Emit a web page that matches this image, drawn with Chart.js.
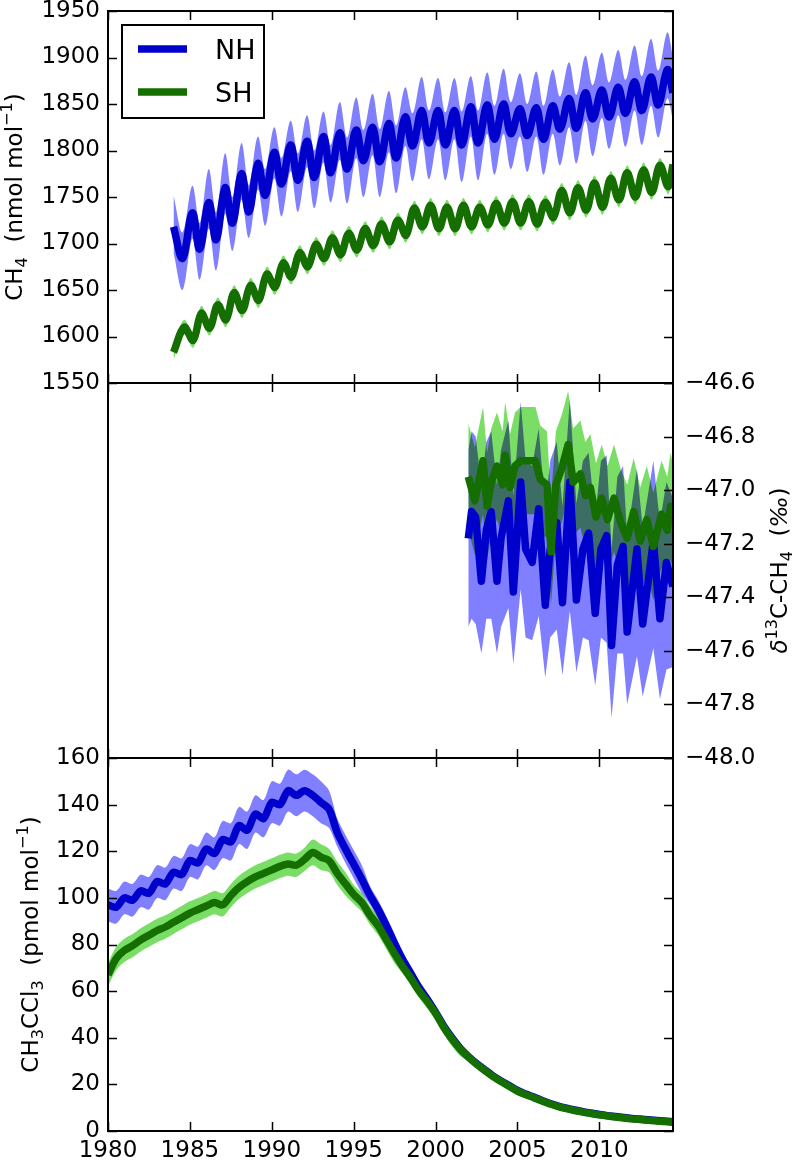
<!DOCTYPE html>
<html><head><meta charset="utf-8">
<script src="https://cdn.jsdelivr.net/npm/chart.js@4.4.1/dist/chart.umd.min.js"></script>
<style>
html,body{margin:0;padding:0;background:#fff;}
#wrap{position:relative;width:793px;height:1160px;overflow:hidden;background:#fff;}
canvas{position:absolute;left:0;top:0;}
</style></head><body>
<div id="wrap">
<canvas id="c1" width="793" height="1160"></canvas>
<canvas id="c2" width="793" height="1160"></canvas>
<canvas id="c3" width="793" height="1160"></canvas>
</div>
<script>
// ---------------- data ----------------
const SERIES_NAMES = ['NH', 'SH'];
const YEAR_TICKS = [1980, 1985, 1990, 1995, 2000, 2005, 2010];
const YEAR_RANGE = [1980, 2014.5];
const CH4_TICKS = [1550, 1600, 1650, 1700, 1750, 1800, 1850, 1900, 1950];
const D13C_TICKS = [-48.0, -47.8, -47.6, -47.4, -47.2, -47.0, -46.8, -46.6];
const MCF_TICKS = [0, 20, 40, 60, 80, 100, 120, 140, 160];

// CH4 (nmol/mol)
const NH_CH4_T = [1984.0,1984.55,1985.15,1985.6,1986.15,1986.6,1987.15,1987.6,1988.15,1988.6,1989.15,1989.6,1990.15,1990.6,1991.15,1991.6,1992.15,1992.6,1993.15,1993.6,1994.15,1994.6,1995.15,1995.6,1996.15,1996.6,1997.15,1997.6,1998.15,1998.6,1999.15,1999.6,2000.15,2000.6,2001.15,2001.6,2002.15,2002.6,2003.15,2003.6,2004.15,2004.6,2005.15,2005.6,2006.15,2006.6,2007.15,2007.6,2008.15,2008.6,2009.15,2009.6,2010.15,2010.6,2011.15,2011.6,2012.15,2012.6,2013.15,2013.6,2014.15,2014.5];
const NH_CH4 = [1718,1684,1733,1694,1744,1704,1760,1722,1775,1734,1786,1752,1798,1764,1806,1768,1810,1771,1815,1776,1819,1780,1822,1789,1825,1788,1829,1792,1836,1805,1843,1808,1843,1806,1843,1806,1847,1808,1849,1812,1850,1818,1845,1816,1846,1812,1848,1823,1856,1824,1862,1834,1865,1836,1868,1840,1874,1843,1879,1849,1887,1862];
const NH_CH4_HI = [1752,1712,1762,1722,1780,1734,1797,1750,1808,1763,1815,1780,1825,1792,1832,1797,1838,1800,1842,1806,1852,1814,1857,1822,1861,1823,1864,1827,1868,1840,1879,1843,1878,1841,1878,1842,1880,1843,1884,1848,1888,1852,1883,1850,1885,1848,1887,1858,1895,1860,1902,1870,1905,1873,1908,1876,1913,1880,1920,1886,1927,1900];
const NH_CH4_LO = [1690,1650,1705,1661,1716,1671,1732,1692,1747,1706,1758,1719,1770,1729,1778,1734,1782,1738,1787,1744,1790,1743,1792,1750,1795,1750,1798,1754,1805,1767,1812,1769,1812,1768,1812,1766,1815,1768,1818,1774,1818,1780,1815,1777,1815,1774,1818,1784,1825,1786,1832,1794,1835,1802,1838,1804,1843,1806,1848,1814,1856,1833];
const SH_CH4_T = [1984.0,1984.65,1985.2,1985.7,1986.2,1986.7,1987.2,1987.7,1988.2,1988.7,1989.2,1989.7,1990.2,1990.7,1991.2,1991.7,1992.2,1992.7,1993.2,1993.7,1994.2,1994.7,1995.2,1995.7,1996.2,1996.7,1997.2,1997.7,1998.2,1998.7,1999.2,1999.7,2000.2,2000.7,2001.2,2001.7,2002.2,2002.7,2003.2,2003.7,2004.2,2004.7,2005.2,2005.7,2006.2,2006.7,2007.2,2007.7,2008.2,2008.7,2009.2,2009.7,2010.2,2010.7,2011.2,2011.7,2012.2,2012.7,2013.2,2013.7,2014.2,2014.5];
const SH_CH4 = [1583,1610,1596,1625,1609,1634,1618,1647,1628,1655,1639,1667,1653,1679,1664,1690,1675,1699,1684,1706,1688,1711,1693,1716,1698,1721,1702,1725,1709,1738,1718,1741,1716,1739,1716,1741,1718,1739,1720,1743,1722,1745,1722,1745,1721,1744,1728,1757,1733,1760,1736,1765,1739,1770,1747,1776,1750,1779,1755,1784,1761,1785];
const SH_CH4_HI = [1591,1618,1604,1633,1617,1642,1626,1655,1636,1663,1647,1675,1661,1687,1672,1698,1683,1707,1692,1714,1696,1719,1701,1724,1706,1729,1710,1733,1717,1746,1726,1749,1724,1747,1724,1749,1726,1747,1728,1751,1730,1753,1730,1753,1729,1752,1736,1765,1741,1768,1744,1773,1747,1778,1755,1784,1758,1787,1763,1792,1769,1793];
const SH_CH4_LO = [1575,1602,1588,1617,1601,1626,1610,1639,1620,1647,1631,1659,1645,1671,1656,1682,1667,1691,1676,1698,1680,1703,1685,1708,1690,1713,1694,1717,1701,1730,1710,1733,1708,1731,1708,1733,1710,1731,1712,1735,1714,1737,1714,1737,1713,1736,1720,1749,1725,1752,1728,1757,1731,1762,1739,1768,1742,1771,1747,1776,1753,1777];

// delta13C-CH4 (permil)
const NH_D13C_T = [2002.0,2002.2,2002.45,2002.8,2003.1,2003.4,2003.75,2004.0,2004.45,2004.75,2005.2,2005.5,2005.9,2006.3,2006.7,2007.0,2007.4,2007.75,2008.2,2008.6,2009.0,2009.35,2009.75,2010.1,2010.45,2010.75,2011.1,2011.45,2011.7,2012.3,2012.65,2013.3,2013.7,2014.1,2014.5];
const NH_D13C = [-47.18,-47.08,-47.10,-47.34,-47.15,-47.08,-47.34,-47.18,-47.04,-47.38,-46.97,-47.22,-47.27,-47.07,-47.43,-47.22,-47.12,-47.42,-46.97,-47.41,-47.22,-47.16,-47.46,-47.22,-47.17,-47.58,-47.28,-47.21,-47.53,-47.22,-47.50,-47.19,-47.48,-47.27,-47.36];
const NH_D13C_HI = [-46.85,-46.78,-46.80,-46.98,-46.82,-46.78,-46.98,-46.85,-46.74,-47.02,-46.67,-46.89,-46.91,-46.77,-47.07,-46.89,-46.82,-47.06,-46.66,-47.05,-46.89,-46.86,-47.10,-46.89,-46.87,-47.22,-46.95,-46.91,-47.17,-46.92,-47.14,-46.89,-47.12,-46.97,-47.03];
const NH_D13C_LO = [-47.51,-47.48,-47.50,-47.61,-47.48,-47.48,-47.61,-47.51,-47.44,-47.65,-47.37,-47.55,-47.56,-47.47,-47.70,-47.55,-47.52,-47.69,-47.45,-47.68,-47.55,-47.56,-47.73,-47.55,-47.57,-47.85,-47.61,-47.61,-47.80,-47.62,-47.77,-47.59,-47.78,-47.67,-47.66];
const SH_D13C_T = [2002.0,2002.4,2002.9,2003.15,2003.4,2003.75,2004.1,2004.25,2004.55,2004.85,2005.2,2006.1,2006.4,2006.8,2007.05,2007.35,2007.7,2008.1,2008.4,2008.85,2009.15,2009.45,2009.8,2010.15,2010.5,2010.9,2011.3,2011.7,2012.1,2012.5,2012.9,2013.3,2013.8,2014.15,2014.35,2014.5];
const SH_D13C = [-46.95,-47.04,-46.89,-47.06,-46.97,-46.91,-46.98,-46.87,-46.99,-46.91,-46.89,-46.89,-46.96,-46.98,-47.23,-46.98,-46.92,-46.83,-46.97,-46.94,-47.02,-46.99,-47.10,-47.03,-47.11,-47.03,-47.12,-47.18,-47.08,-47.19,-47.11,-47.21,-47.09,-47.15,-47.06,-47.10];
const SH_D13C_HI = [-46.75,-46.84,-46.69,-46.86,-46.77,-46.71,-46.78,-46.67,-46.79,-46.71,-46.69,-46.69,-46.76,-46.78,-47.03,-46.78,-46.72,-46.63,-46.77,-46.74,-46.82,-46.79,-46.90,-46.83,-46.91,-46.83,-46.92,-46.98,-46.88,-46.99,-46.91,-47.01,-46.89,-46.95,-46.86,-46.90];
const SH_D13C_LO = [-47.15,-47.24,-47.09,-47.26,-47.17,-47.11,-47.18,-47.07,-47.19,-47.11,-47.09,-47.09,-47.16,-47.18,-47.43,-47.18,-47.12,-47.03,-47.17,-47.14,-47.22,-47.19,-47.30,-47.23,-47.31,-47.23,-47.32,-47.38,-47.28,-47.39,-47.31,-47.41,-47.29,-47.35,-47.26,-47.30];

// CH3CCl3 (pmol/mol)
const MCF_T = [1980,1980.5,1981,1981.5,1982,1982.5,1983,1983.5,1984,1984.5,1985,1985.5,1986,1986.5,1987,1987.5,1988,1988.5,1989,1989.5,1990,1990.5,1991,1991.5,1992,1992.5,1993,1993.5,1994,1994.5,1995,1995.5,1996,1996.5,1997,1997.5,1998,1998.5,1999,1999.5,2000,2000.5,2001,2001.5,2002,2002.5,2003,2003.5,2004,2004.5,2005,2005.5,2006,2006.5,2007,2007.5,2008,2008.5,2009,2009.5,2010,2010.5,2011,2011.5,2012,2012.5,2013,2013.5,2014,2014.5];
const NH_MCF = [97,96,100,99,103,102,107,106,111,110,116,115,121,119,125,124,131,129,136,134,141,140,146,144,146,144,141,138,128,121,114.5,108,101,95,88,80.5,73.5,67.5,61.5,56.5,51,45,40,35.5,32,29,26.3,23.7,21.5,19.5,17.4,15.9,14.6,13.1,11.8,10.7,9.8,9.0,8.3,7.7,7.1,6.6,6.2,5.8,5.4,5.1,4.8,4.5,4.3,4.0];
const NH_MCF_HI = [104,103,107,106,110,109,114,113,118,117,123,122,128,126,133,132,139,137,144,142,150,149,155,153,155,153,150,146,134,127,120.5,114,105,99,92,84.5,76,70,64,59,53.5,47.5,41.5,37,33.5,30.5,27.8,25.2,23,21,18.2,16.7,15.4,13.9,12.6,11.5,10.6,9.8,9.1,8.5,7.9,7.4,7.0,6.6,6.2,5.9,5.6,5.3,5.1,4.8];
const NH_MCF_LO = [90,89,93,92,96,95,100,99,104,103,109,108,114,112,117,116,123,121,128,126,132,131,137,135,137,135,132,130,122,115,108.5,102,97,91,84,76.5,71,65,59,54,48.5,42.5,38.5,34,30.5,27.5,24.8,22.2,20,18,16.6,15.1,13.8,12.3,11.0,9.9,9.0,8.2,7.5,6.9,6.3,5.8,5.4,5.0,4.6,4.3,4.0,3.7,3.5,3.2];
const SH_MCF = [67,74,77.5,79.5,82,84,86,87.5,89.5,91.5,93.5,95,96.5,98,97,101,104.5,107,109,110.5,112,113.5,114.5,114,116.5,119.5,117.5,116,110.5,106,101.5,98,92.5,88,82,76,70.5,65.5,60,55.5,50.5,44.5,39.5,35.2,31.7,28.7,26,23.4,21.2,19.2,17.1,15.6,14.3,12.9,11.6,10.5,9.6,8.8,8.1,7.5,6.9,6.4,6.0,5.6,5.2,4.9,4.6,4.3,4.1,3.8];
const SH_MCF_HI = [72,79,82.5,84.5,87,89,91,92.5,94.5,96.5,98.5,100,101.5,103,102,106,109.5,112,114,115.5,117,118.5,119.5,119,121.5,125,123,121,115.5,111,105.5,102,96.5,92,86,80,73.5,68.5,63,58.5,53.5,47.5,42.5,38.2,33.2,30.2,27.5,24.9,22.7,20.7,18.6,17.1,15.8,14.4,13.1,12.0,10.6,9.8,9.1,8.5,7.9,7.4,7.0,6.6,6.2,5.9,5.6,5.3,5.1,4.8];
const SH_MCF_LO = [62,69,72.5,74.5,77,79,81,82.5,84.5,86.5,88.5,90,91.5,93,92,96,99.5,102,104,105.5,107,108.5,109.5,109,111.5,114,112,111,105.5,101,97.5,94,88.5,84,78,72,67.5,62.5,57,52.5,47.5,41.5,36.5,32.2,30.2,27.2,24.5,21.9,19.7,17.7,15.6,14.1,12.8,11.4,10.1,9.0,8.6,7.8,7.1,6.5,5.9,5.4,5.0,4.6,4.2,3.9,3.6,3.3,3.1,2.8];

// ---------------- styles ----------------
const FONT = "'DejaVu Sans', 'Liberation Sans', sans-serif";
const NH_LINE = '#0000cc';
const SH_LINE = '#146e00';
const NH_BAND = 'rgba(0,0,255,0.5)';
const SH_BAND = 'rgb(122,221,102)';   // drawn with 'multiply' so overlaps turn dark teal
const LW = 7.5;
Chart.defaults.font.family = FONT;
Chart.defaults.color = '#000';

function pts(t, v) { return t.map((x, i) => ({ x: x, y: v[i] })); }
function base(tension, extra) {
  return Object.assign({ pointRadius: 0, pointHoverRadius: 0, tension: tension, clip: 0,
    borderJoinStyle: 'round', borderCapStyle: 'butt', fill: false }, extra);
}
function datasets(nh, sh, tension) {
  const none = 'rgba(0,0,0,0)';
  return [
    base(tension, { label: SERIES_NAMES[1], data: pts(sh[0], sh[1]), borderColor: SH_LINE, borderWidth: LW }),
    base(tension, { label: SERIES_NAMES[0], data: pts(nh[0], nh[1]), borderColor: NH_LINE, borderWidth: LW }),
    base(tension, { data: pts(sh[0], sh[2]), borderWidth: 0, borderColor: none, fill: '+1', backgroundColor: SH_BAND }),
    base(tension, { data: pts(sh[0], sh[3]), borderWidth: 0, borderColor: none }),
    base(tension, { data: pts(nh[0], nh[2]), borderWidth: 0, borderColor: none, fill: '+1', backgroundColor: NH_BAND }),
    base(tension, { data: pts(nh[0], nh[3]), borderWidth: 0, borderColor: none })
  ];
}

// SH band (dataset 2) is filled in 'multiply' mode: set after dataset 3 is drawn, reset after dataset 2
const multiplyPlugin = {
  id: 'multiplyBand',
  afterDatasetDraw(chart, args) {
    if (args.index === 3) chart.ctx.globalCompositeOperation = 'multiply';
    if (args.index === 2) chart.ctx.globalCompositeOperation = 'source-over';
  }
};

const TICK_LEN = 9;
function framePlugin(yTicks, left, right) {
  return {
    id: 'frameTicks',
    afterDatasetsDraw(chart) {
      const ctx = chart.ctx, a = chart.chartArea, xs = chart.scales.x, ys = chart.scales.y;
      ctx.save();
      ctx.globalCompositeOperation = 'source-over';
      ctx.strokeStyle = '#000';
      ctx.lineWidth = 1.5;
      ctx.beginPath();
      YEAR_TICKS.forEach(v => {
        const px = Math.round(xs.getPixelForValue(v)) + 0.5;
        ctx.moveTo(px, a.top); ctx.lineTo(px, a.top + TICK_LEN);
        ctx.moveTo(px, a.bottom); ctx.lineTo(px, a.bottom - TICK_LEN);
      });
      yTicks.forEach(v => {
        const py = Math.round(ys.getPixelForValue(v)) + 0.5;
        if (left) { ctx.moveTo(a.left, py); ctx.lineTo(a.left + TICK_LEN, py); }
        if (right) { ctx.moveTo(a.right, py); ctx.lineTo(a.right - TICK_LEN, py); }
      });
      ctx.stroke();
      ctx.lineWidth = 2;
      ctx.strokeRect(a.left, a.top, a.right - a.left, a.bottom - a.top);
      ctx.restore();
    }
  };
}

function drawRich(ctx, parts, bx, cy, size) {
  ctx.save();
  ctx.translate(bx, cy);
  ctx.rotate(-Math.PI / 2);
  ctx.textBaseline = 'alphabetic';
  ctx.fillStyle = '#000';
  const items = parts.map(p => {
    const fs = p.s ? size * 0.7 : size;
    const f = (p.i ? 'italic ' : '') + fs + 'px ' + FONT;
    ctx.font = f;
    return { p: p, f: f, w: ctx.measureText(p.t).width };
  });
  const total = items.reduce((s, it) => s + it.w, 0);
  let x = -total / 2;
  items.forEach(it => {
    ctx.font = it.f;
    const dy = it.p.s === 'sub' ? size * 0.22 : (it.p.s === 'sup' ? -size * 0.42 : 0);
    ctx.fillText(it.p.t, x, dy);
    x += it.w;
  });
  ctx.restore();
}
function titlePlugin(parts, side, offset) {
  return {
    id: 'axisTitle',
    afterDraw(chart) {
      const a = chart.chartArea;
      const bx = side === 'left' ? a.left - offset : a.right + offset;
      drawRich(chart.ctx, parts, bx, (a.top + a.bottom) / 2, 23);
    }
  };
}
const legendPlugin = {
  id: 'boxLegend',
  afterDraw(chart) {
    const ctx = chart.ctx, a = chart.chartArea;
    const bx = a.left + 14, by = a.top + 14, bw = 142, bh = 93;
    ctx.save();
    ctx.fillStyle = '#fff';
    ctx.fillRect(bx, by, bw, bh);
    ctx.lineWidth = 2;
    ctx.strokeStyle = '#000';
    ctx.strokeRect(bx, by, bw, bh);
    [NH_LINE, SH_LINE].forEach((c, i) => {
      const y = by + 24 + i * 43;
      ctx.strokeStyle = c;
      ctx.lineWidth = LW;
      ctx.lineCap = 'butt';
      ctx.beginPath(); ctx.moveTo(bx + 16, y); ctx.lineTo(bx + 65, y); ctx.stroke();
      ctx.fillStyle = '#000';
      ctx.font = '27px ' + FONT;
      ctx.textBaseline = 'alphabetic';
      ctx.fillText(SERIES_NAMES[i], bx + 93, y + 10);
    });
    ctx.restore();
  }
};

function yAxis(ticksArr, pos, width, pad, fmt) {
  return {
    type: 'linear', position: pos, min: ticksArr[0], max: ticksArr[ticksArr.length - 1],
    grid: { display: false, drawTicks: false }, border: { display: false },
    ticks: { font: { size: 23 }, color: '#000', padding: pad, autoSkip: false, callback: fmt },
    afterBuildTicks: s => { s.ticks = ticksArr.map(v => ({ value: v })); },
    afterFit: s => { s.width = width; s.paddingTop = 0; s.paddingBottom = 0; }
  };
}
function xHidden() {
  return { type: 'linear', display: false, min: YEAR_RANGE[0], max: YEAR_RANGE[1] };
}
function common(padding, scales) {
  return { responsive: false, animation: false, events: [], layout: { padding: padding },
    plugins: { legend: { display: false }, tooltip: { enabled: false } }, scales: scales };
}
const intFmt = v => String(v);
const decFmt = v => Number(v).toFixed(1).replace('-', '\u2212');

// Panel 1: CH4
new Chart(document.getElementById('c1'), {
  type: 'line',
  data: { datasets: datasets([NH_CH4_T, NH_CH4, NH_CH4_HI, NH_CH4_LO], [SH_CH4_T, SH_CH4, SH_CH4_HI, SH_CH4_LO], 0.35) },
  options: common({ left: 0, right: 120, top: 11, bottom: 777 },
    { x: xHidden(), y: yAxis(CH4_TICKS, 'left', 108, 8, intFmt) }),
  plugins: [multiplyPlugin, framePlugin(CH4_TICKS, true, true), legendPlugin,
    titlePlugin([{ t: 'CH' }, { t: '4', s: 'sub' }, { t: '  (nmol mol' }, { t: '\u22121', s: 'sup' }, { t: ')' }], 'left', 86)]
});

// Panel 2: delta13C
new Chart(document.getElementById('c2'), {
  type: 'line',
  data: { datasets: datasets([NH_D13C_T, NH_D13C, NH_D13C_HI, NH_D13C_LO], [SH_D13C_T, SH_D13C, SH_D13C_HI, SH_D13C_LO], 0) },
  options: common({ left: 108, right: 0, top: 383, bottom: 402 },
    { x: xHidden(), y: yAxis(D13C_TICKS, 'right', 120, 12, decFmt) }),
  plugins: [multiplyPlugin, framePlugin(D13C_TICKS, false, true),
    titlePlugin([{ t: '\u03b4', i: true }, { t: '13', s: 'sup' }, { t: 'C-CH' }, { t: '4', s: 'sub' }, { t: '  (' }, { t: '\u2030', i: true }, { t: ')' }], 'right', 114)]
});

// Panel 3: CH3CCl3
new Chart(document.getElementById('c3'), {
  type: 'line',
  data: { datasets: datasets([MCF_T, NH_MCF, NH_MCF_HI, NH_MCF_LO], [MCF_T, SH_MCF, SH_MCF_HI, SH_MCF_LO], 0.3) },
  options: common({ left: 0, right: 120, top: 758, bottom: 0 }, {
    x: { type: 'linear', position: 'bottom', min: YEAR_RANGE[0], max: YEAR_RANGE[1],
      grid: { display: false, drawTicks: false }, border: { display: false },
      ticks: { font: { size: 23 }, color: '#000', padding: 6, autoSkip: false, maxRotation: 0, includeBounds: false, callback: intFmt },
      afterBuildTicks: s => { s.ticks = YEAR_TICKS.map(v => ({ value: v })); },
      afterFit: s => { s.height = 29; s.paddingLeft = 0; s.paddingRight = 0; } },
    y: yAxis(MCF_TICKS, 'left', 108, 8, intFmt) }),
  plugins: [multiplyPlugin, framePlugin(MCF_TICKS, true, true),
    titlePlugin([{ t: 'CH' }, { t: '3', s: 'sub' }, { t: 'CCl' }, { t: '3', s: 'sub' }, { t: '  (pmol mol' }, { t: '\u22121', s: 'sup' }, { t: ')' }], 'left', 70)]
});
</script>
</body></html>
